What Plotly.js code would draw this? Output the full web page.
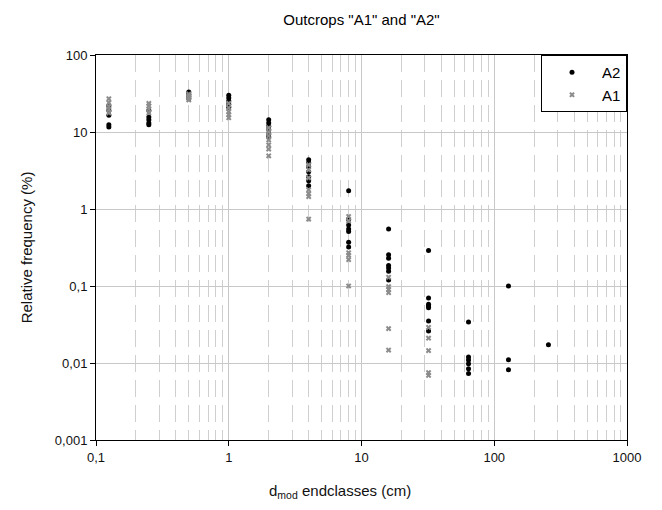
<!DOCTYPE html>
<html>
<head>
<meta charset="utf-8">
<script src="https://cdn.plot.ly/plotly-3.0.1.min.js"></script>
<style>html,body{margin:0;padding:0;background:#fff;}#chart{width:662px;height:510px;}</style>
</head>
<body>
<div id="chart"></div>
<script>
// Size classes (cm)
const a2Classes = [0.125,0.125,0.125,0.125,0.125,
  0.25,0.25,0.25,0.25,0.25,
  0.5,0.5,0.5,0.5,
  1,1,1,1,1,
  2,2,2,2,2,2,
  4,4,4,4,4,4,4,
  8,8,8,8,8,8,8,
  16,16,16,16,16,16,16,
  32,32,32,32,32,32,32,
  64,64,64,64,64,64,
  128,128,128,
  256];
const a2Values = [22,19,16.5,12.4,11.6,
  19,15.7,14.4,13.1,12.4,
  33,31,29,27,
  30,27.6,25.3,23,21,
  14.4,13.1,11.9,10.7,9.4,8.6,
  4.36,3.98,3.54,3.05,2.63,2.33,2.01,
  1.73,0.73,0.62,0.55,0.51,0.37,0.32,
  0.55,0.255,0.23,0.184,0.171,0.155,0.12,
  0.29,0.07,0.058,0.055,0.052,0.035,0.026,
  0.034,0.012,0.0109,0.0098,0.0084,0.0073,
  0.1,0.011,0.0082,
  0.0172];
const a1Classes = [0.125,0.125,0.125,0.125,0.125,
  0.25,0.25,0.25,0.25,
  0.5,0.5,0.5,0.5,
  1,1,1,1,1,
  2,2,2,2,2,2,2,
  4,4,4,4,4,4,4,
  8,8,8,8,8,8,
  16,16,16,16,16,16,
  32,32,32,32,32];
const a1Values = [27,24,21.5,19.5,17.7,
  23.5,21.8,19.8,17.8,
  31,29.5,28,26,
  23.5,20.6,18.3,16.8,15.3,
  11.3,10,8.9,7.9,6.8,6,4.9,
  3.75,3.23,2.54,1.78,1.58,1.45,0.74,
  0.8,0.7,0.27,0.25,0.22,0.1,
  0.13,0.098,0.09,0.082,0.028,0.0147,
  0.029,0.021,0.0145,0.0075,0.0069];
const xTickVals = [0.1,1,10,100,1000];
const xTickText = ["0,1","1","10","100","1000"];
const yTickVals = [0.001,0.01,0.1,1,10,100];
const yTickText = ["0,001","0,01","0,1","1","10","100"];

const font = "Liberation Sans, Arial, sans-serif";
const traces = [
  {x: a2Classes, y: a2Values, name: "A2", type: "scatter", mode: "markers",
   marker: {symbol: "circle", size: 5, color: "#000"}},
  {x: a1Classes, y: a1Values, name: "A1", type: "scatter", mode: "markers",
   marker: {symbol: "x", size: 5, color: "#8c8c8c"}}
];
const layout = {
  width: 662, height: 510,
  margin: {l: 96, r: 35, t: 55, b: 70},
  paper_bgcolor: "#fff", plot_bgcolor: "#fff",
  font: {family: font, size: 13, color: "#111"},
  title: {text: 'Outcrops "A1" and "A2"', x: 0.5, xref: "paper", y: 0.962, yanchor: "middle",
          font: {family: font, size: 15, color: "#000"}},
  showlegend: true,
  legend: {x: 1, xanchor: "right", y: 1, yanchor: "top", bgcolor: "#fff",
           bordercolor: "#000", borderwidth: 1, itemwidth: 50,
           font: {family: font, size: 15, color: "#000"}, tracegroupgap: 0},
  xaxis: {type: "log", range: [-1, 3], tickmode: "array", tickvals: xTickVals, ticktext: xTickText,
          showline: true, linecolor: "#000", linewidth: 1, mirror: true,
          ticks: "outside", ticklen: 5, tickcolor: "#000",
          showgrid: true, gridcolor: "#c8c8c8", gridwidth: 1, zeroline: false,
          minor: {dtick: "D1", showgrid: true, gridcolor: "#cfcfcf", griddash: "17px,8px", ticks: ""},
          tickfont: {family: font, size: 13, color: "#111"}},
  yaxis: {type: "log", range: [-3, 2], tickmode: "array", tickvals: yTickVals, ticktext: yTickText,
          showline: true, linecolor: "#000", linewidth: 1, mirror: true,
          ticks: "outside", ticklen: 5, tickcolor: "#000",
          showgrid: true, gridcolor: "#c8c8c8", gridwidth: 1, zeroline: false,
          tickfont: {family: font, size: 13, color: "#111"},
          title: {text: "Relative frequency (%)", standoff: 18, font: {family: font, size: 15, color: "#111"}}},
  annotations: [
    {text: "d<sub>mod</sub> endclasses (cm)", xref: "paper", yref: "paper", x: 0.46, y: -0.135,
     xanchor: "center", yanchor: "middle", showarrow: false, font: {family: font, size: 15, color: "#111"}}
  ]
};
Plotly.newPlot("chart", traces, layout, {displayModeBar: false, staticPlot: true});
</script>
</body>
</html>
